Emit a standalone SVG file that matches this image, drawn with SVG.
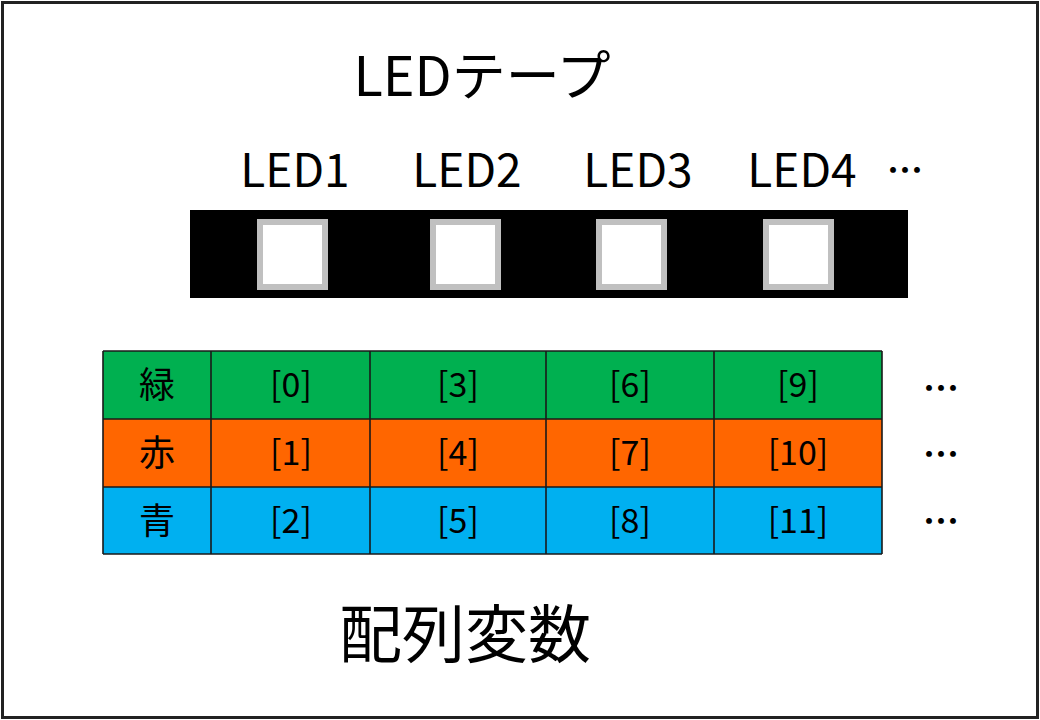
<svg xmlns="http://www.w3.org/2000/svg" width="1040" height="720" viewBox="0 0 1040 720">
<style>
  text { font-family: "Noto Sans CJK JP", "Noto Sans", sans-serif; fill: #000; }
  .lbl { font-size: 46px; text-anchor: middle; }
  .cell { font-size: 34px; text-anchor: middle; }
  .led { fill: #ffffff; stroke: #c0c0c0; stroke-width: 6; }
  .grid { stroke: #1a1a1a; stroke-width: 1.6; fill: none; }
  .dots { font-size: 36px; font-weight: bold; text-anchor: middle; }
</style>
<rect x="0" y="0" width="1040" height="720" fill="#ffffff"/>
<rect x="2.5" y="2.5" width="1035" height="715" fill="none" stroke="#222" stroke-width="3"/>
<text x="482" y="96" font-size="54" text-anchor="middle">LEDテープ</text>
<g id="labels">
  <text class="lbl" x="295" y="187">LED1</text>
  <text class="lbl" x="467" y="187">LED2</text>
  <text class="lbl" x="638" y="187">LED3</text>
  <text class="lbl" x="802" y="187">LED4</text>
  <text class="dots" x="905" y="184">…</text>
</g>
<g id="strip">
  <rect x="190" y="210" width="718" height="88" fill="#000"/>
  <rect class="led" x="260" y="222" width="65" height="65"/>
  <rect class="led" x="433" y="222" width="65" height="65"/>
  <rect class="led" x="599" y="222" width="65" height="65"/>
  <rect class="led" x="766" y="222" width="65" height="65"/>
</g>
<g id="table">
  <rect x="103" y="351" width="779" height="68" fill="#00b050"/>
  <rect x="103" y="419" width="779" height="68" fill="#ff6600"/>
  <rect x="103" y="487" width="779" height="67" fill="#00b0f0"/>
  <path class="grid" d="M103 351H882M103 419H882M103 487H882M103 554H882M103 351V554M211 351V554M370 351V554M546 351V554M714 351V554M882 351V554"/>
  <text x="157" y="398" font-size="36" text-anchor="middle">緑</text>
  <text x="157" y="466" font-size="36" text-anchor="middle">赤</text>
  <text x="157" y="534" font-size="36" text-anchor="middle">青</text>
  <text class="cell" x="291" y="397">[0]</text>
  <text class="cell" x="458" y="397">[3]</text>
  <text class="cell" x="630" y="397">[6]</text>
  <text class="cell" x="798" y="397">[9]</text>
  <text class="cell" x="291" y="465">[1]</text>
  <text class="cell" x="458" y="465">[4]</text>
  <text class="cell" x="630" y="465">[7]</text>
  <text class="cell" x="798" y="465">[10]</text>
  <text class="cell" x="291" y="533">[2]</text>
  <text class="cell" x="458" y="533">[5]</text>
  <text class="cell" x="630" y="533">[8]</text>
  <text class="cell" x="798" y="533">[11]</text>
  <text class="dots" x="941" y="402">…</text>
  <text class="dots" x="941" y="468">…</text>
  <text class="dots" x="941" y="535">…</text>
</g>
<text x="465" y="657" font-size="63" text-anchor="middle">配列変数</text>
</svg>
